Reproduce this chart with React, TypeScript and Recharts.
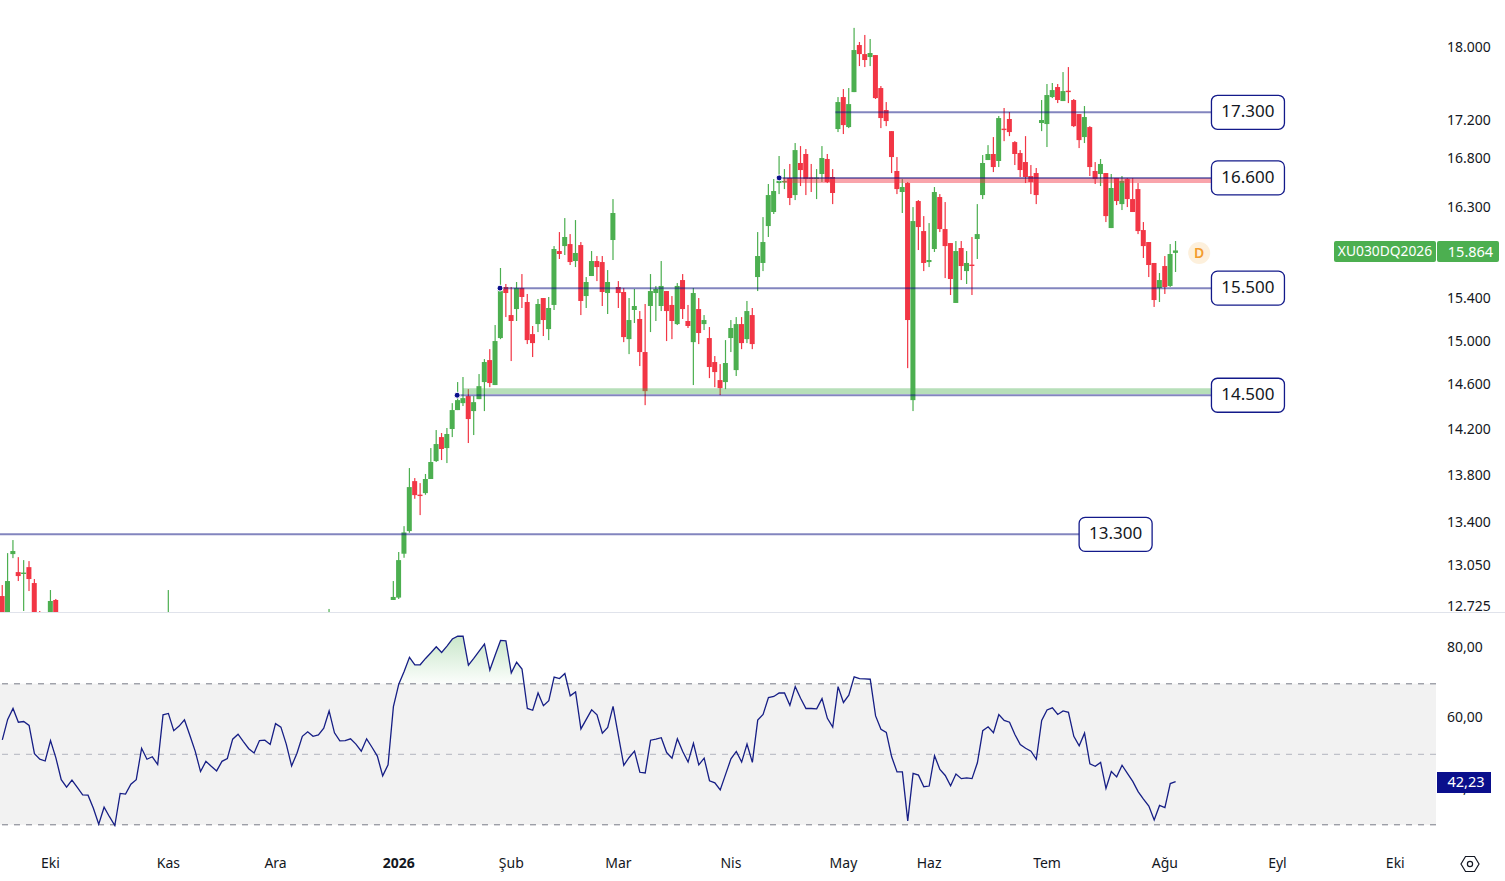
import {
  Area,
  Bar,
  ComposedChart,
  Line,
  ReferenceArea,
  ReferenceDot,
  ReferenceLine,
  XAxis,
  YAxis,
} from "recharts";

const UP = "#4caf50";
const DOWN = "#f23645";
const NAVY = "#131a8a";
const DRAW = "rgba(16,22,130,0.52)";
const FONT = "'Noto Sans', sans-serif";
const TEXT = "#131722";

// null = the candle sits entirely below the visible price pane
const n = null;
const opens = [
  12800,12600,13138,12992,12980,13032,12904,12650,n,12600,
  12769,n,n,n,n,n,n,n,n,n,
  n,n,n,n,n,n,n,n,n,n,
  n,12500,n,n,n,n,n,n,n,n,
  n,n,n,n,n,n,n,n,n,n,
  n,n,n,n,n,n,n,n,n,n,
  n,12500,n,n,n,n,n,n,n,n,
  n,n,n,12769,12788,13141,13327,13747,13632,13645,
  13765,13919,14128,14032,14199,14367,14429,14492,14358,14465,
  14619,14820,14592,15024,15508,15240,15297,15498,15364,15061,
  15155,15402,15108,15336,15858,15907,15927,15760,15917,15421,
  15614,15760,15750,15450,15967,15508,15460,15014,15288,15203,
  14894,15326,15450,15326,15469,15336,15155,15575,15184,14986,
  15297,15155,15024,14802,14637,14619,15024,14728,15155,15014,
  15240,15604,15741,16106,16247,16542,16553,16594,16419,16749,
  16843,16598,16590,16635,16791,16604,17106,17449,17127,17503,
  18022,17921,17888,17910,17547,17309,17084,16666,16450,16542,
  14456,16358,16056,15750,15878,16399,16076,15937,15355,15888,
  15662,15725,15977,16419,16780,16843,16770,17110,17213,16968,
  16853,16759,16614,16645,17170,17159,17449,17558,17406,17518,
  17417,17266,17021,17127,16666,16635,16645,16086,16594,16327,
  16583,16378,16480,16066,15947,15741,15498,15711,15518,15840,
];
const closes = [
  12600,12920,13163,12960,12988,12936,12600,12620,n,12761,
  12600,n,n,n,n,n,n,n,n,n,
  n,n,n,n,n,n,n,n,n,n,
  n,12620,n,n,n,n,n,n,n,n,
  n,n,n,n,n,n,n,n,n,n,
  n,n,n,n,n,n,n,n,n,n,
  n,12620,n,n,n,n,n,n,n,n,
  n,n,n,12793,13089,13316,13696,13628,13625,13765,
  13911,14067,14024,14155,14367,14456,14474,14287,14438,14582,
  14802,14610,14996,15469,15450,15184,15498,15412,15005,14977,
  15345,15193,15307,15878,15829,15997,15750,15839,15374,15556,
  15760,15701,15460,15556,16237,15450,15033,15193,15326,14894,
  14537,15469,15489,15518,15278,15184,15518,15297,15137,15450,
  15071,15193,14756,14710,14564,14793,15118,15155,14977,15278,
  14968,15809,15947,16419,16460,16563,16563,16389,16884,16676,
  16583,16590,16598,16801,16553,16440,17395,17148,17373,17966,
  17921,17855,17933,17438,17223,17191,16811,16480,16501,15193,
  16156,16096,15741,15770,16450,16076,15907,15585,15858,15711,
  15741,15717,16026,16749,16843,16707,17223,17102,17074,16843,
  16676,16604,16553,16419,17202,17471,17525,17417,17514,17510,
  17137,16989,17234,16707,16583,16739,16206,16491,16358,16563,
  16378,16247,16056,15907,15721,15383,15575,15508,15829,15864,
];
const highs = [
  12888,13146,13253,13113,13089,13081,12936,12682,n,12848,
  12777,n,n,n,n,n,n,n,n,n,
  n,n,n,n,n,n,n,n,n,n,
  n,12848,n,n,n,n,n,n,n,n,
  n,n,n,n,n,n,n,n,n,n,
  n,n,n,n,n,n,n,n,n,n,
  n,12698,n,n,n,n,n,n,n,n,
  n,n,n,12920,13155,13368,13859,13773,13730,13808,
  14032,14190,14164,14208,14429,14619,14665,14555,14492,14692,
  14829,14921,15146,15692,15537,15508,15556,15633,15441,15137,
  15393,15402,15412,15907,16046,16186,16026,16166,15947,15604,
  15858,15809,15809,15672,16378,15565,15498,15402,15489,15278,
  15345,15633,15518,15760,15469,15421,15546,15633,15336,15498,
  15402,15240,15127,14857,14783,15005,15193,15221,15221,15374,
  15307,16046,16196,16532,16583,16822,16686,16739,16958,16926,
  16895,16739,16686,16926,16843,16686,17449,17536,17547,18215,
  18056,18135,18090,17910,17569,17395,17084,16811,16583,16553,
  16297,16368,16206,16136,16501,16429,16348,15937,15957,15957,
  15858,15997,16327,16832,16936,17021,17245,17331,17288,16978,
  16884,17031,16728,16697,17417,17591,17602,17591,17722,17777,
  17428,17266,17352,17137,16759,16791,16645,16635,16594,16614,
  16594,16594,16542,16146,15947,15741,15643,15809,15927,15957,
];
const lows = [
  12560,12560,13105,12920,12682,12840,12560,12580,n,12560,
  12560,n,n,n,n,n,n,n,n,n,
  n,n,n,n,n,n,n,n,n,n,
  n,12450,n,n,n,n,n,n,n,n,
  n,n,n,n,n,n,n,n,n,n,
  n,n,n,n,n,n,n,n,n,n,
  n,12450,n,n,n,n,n,n,n,n,
  n,n,n,12769,12777,13108,13313,13597,13460,13631,
  13765,13911,13928,13902,14128,14367,14403,14076,14146,14465,
  14358,14573,14592,15014,15221,14811,15184,15307,14968,14848,
  15080,15043,15005,15288,15780,15819,15721,15701,15240,15307,
  15614,15565,15326,15250,15770,15307,14986,14875,15165,14765,
  14411,15080,15184,15278,14996,15014,15146,15203,15118,14592,
  14968,15099,14655,14573,14501,14555,14894,14674,14921,14977,
  14921,15469,15662,15997,16227,16429,16480,16317,16368,16511,
  16419,16450,16378,16553,16542,16327,17074,17053,17116,17503,
  17788,17777,17788,17428,17116,17137,16645,16429,16237,14746,
  14358,15868,15662,15701,15849,16046,15594,15431,15355,15575,
  15537,15431,15780,16378,16780,16655,16707,16978,17031,16728,
  16604,16542,16429,16327,17084,16916,17438,17384,17406,17384,
  17127,16905,16958,16614,16532,16511,16146,16086,16317,16267,
  16297,16247,16026,15790,15604,15317,15364,15441,15508,15653,
];
const rsi = [
  54.1,59.9,63.0,59.1,59.3,58.2,50.2,48.6,48.1,53.9,
  49.0,42.8,40.7,42.7,40.6,38.5,38.4,34.7,30.2,35.0,
  32.3,29.8,38.9,38.7,41.5,42.8,51.7,48.6,49.3,47.1,
  61.2,61.6,56.7,58.0,59.8,55.4,50.9,45.1,48.0,46.6,
  45.3,48.0,48.8,54.3,55.7,53.6,51.6,50.4,53.9,54.0,
  52.8,58.7,57.7,52.9,46.7,50.3,55.1,56.4,55.1,55.5,
  57.4,62.3,56.1,53.8,53.9,54.4,52.9,50.9,54.4,52.0,
  49.5,43.9,47.0,63.5,69.9,73.5,77.5,75.4,75.4,77.2,
  78.8,80.5,78.9,80.7,82.7,83.5,83.5,75.3,77.2,79.3,
  81.3,73.9,78.2,82.3,82.2,73.1,76.1,74.2,63.0,62.5,
  67.4,63.8,65.2,71.9,71.5,72.9,66.6,67.7,57.2,59.9,
  62.6,61.2,56.0,57.6,63.6,55.2,46.9,49.1,50.9,44.9,
  44.7,54.0,54.3,54.7,50.5,48.9,54.4,50.8,47.8,53.1,
  47.0,48.9,42.5,41.9,39.9,44.3,48.7,50.8,47.8,52.9,
  47.7,59.7,61.3,66.1,66.4,67.4,67.4,63.9,69.2,65.9,
  63.0,63.0,62.9,65.8,60.2,57.7,69.2,64.7,66.8,72.0,
  71.5,71.4,71.3,60.9,57.1,56.2,49.3,45.0,45.0,31.1,
  44.6,44.1,40.8,41.0,49.6,45.7,44.0,41.1,44.4,43.1,
  43.3,43.1,47.6,56.7,57.8,56.1,61.3,59.6,59.1,55.6,
  52.8,51.7,50.9,48.6,59.6,62.6,63.2,61.3,62.3,61.9,
  55.1,52.4,56.0,47.3,46.6,47.7,40.3,45.1,43.6,46.9,
  44.6,42.3,39.4,37.3,35.3,31.4,35.5,34.9,41.7,42.23,
];

const priceTicks = [18000, 17200, 16800, 16300, 15800, 15400, 15000, 14600, 14200, 13800, 13400, 13050, 12725];
const rsiTicks = [80, 60, 40];
const timeIndexes = [9, 31, 51, 74, 95, 115, 136, 157, 173, 195, 217, 238, 260];
const timeLabels = ["Eki", "Kas", "Ara", "2026", "Şub", "Mar", "Nis", "May", "Haz", "Tem", "Ağu", "Eyl", "Eki"];

const RIGHT_SLOT = 225.6;
const levels = [
  { price: 17285, label: "17.300", from: 155.5, to: RIGHT_SLOT, box: 232.5, dot: false },
  { price: 16595, label: "16.600", from: 145, to: RIGHT_SLOT, box: 232.5, dot: true },
  { price: 15497, label: "15.500", from: 92.9, to: RIGHT_SLOT, box: 232.5, dot: true },
  { price: 14500, label: "14.500", from: 84.9, to: RIGHT_SLOT, box: 232.5, dot: true },
  { price: 13300, label: "13.300", from: -0.43, to: 201, box: 207.8, dot: false },
];

const xDomain = [-0.43, 267.6];
const priceDomain = [12674, 18533];
const rsiDomain = [24.27, 90.09];

const rows = rsi.map((value, i) => ({
  i,
  o: opens[i],
  h: highs[i],
  l: lows[i],
  c: closes[i],
  rsi: value,
  over: [70, Math.max(value, 70)],
}));
const candleRows = rows.filter((r) => r.o !== null);

const lastClose = closes[closes.length - 1];
const lastRsi = rsi[rsi.length - 1];

function fmtPrice(v: number): string {
  return String(v).replace(/(\d{2})(\d{3})$/, "$1.$2");
}

function candleColor(p: any): string {
  return p.c >= p.o ? UP : DOWN;
}

function CandlePart(props: any) {
  const { x, y, width, height, payload } = props;
  if (!payload || !Number.isFinite(y)) return null;
  return <rect x={x} y={y} width={width} height={Math.max(height, 1.4)} fill={candleColor(payload)} />;
}

function PriceTick(props: any) {
  return (
    <text x={1447} y={props.y + 5} fontFamily={FONT} fontSize={14} fill={TEXT}>
      {fmtPrice(props.payload.value)}
    </text>
  );
}

function RsiTick(props: any) {
  return (
    <text x={1447} y={props.y + 3} fontFamily={FONT} fontSize={14} fill={TEXT}>
      {`${props.payload.value},00`}
    </text>
  );
}

function TimeTick(props: any) {
  const { x, payload } = props;
  const idx = timeIndexes.indexOf(payload.value);
  const label = timeLabels[idx];
  return (
    <text
      x={x}
      y={255}
      textAnchor="middle"
      fontFamily={FONT}
      fontSize={14}
      fontWeight={label === "2026" ? 700 : 400}
      fill={TEXT}
    >
      {label}
    </text>
  );
}

function LevelBox(props: any) {
  const { cx, cy, label } = props;
  return (
    <g>
      <rect x={cx - 36.5} y={cy - 17} width={73} height={34} rx={6} fill="#fff" stroke={NAVY} strokeWidth={1.3} />
      <text x={cx} y={cy + 5} textAnchor="middle" fontFamily={FONT} fontSize={17} fill={TEXT}>
        {label}
      </text>
    </g>
  );
}

function StartDot(props: any) {
  const { cx, cy } = props;
  return <circle cx={cx} cy={cy} r={3} fill="#0a0f8c" stroke="#fff" strokeWidth={1} />;
}

function DividendBadge(props: any) {
  const { cx, cy } = props;
  return (
    <g>
      <circle cx={cx} cy={cy} r={11} fill="#fdf0dc" />
      <text x={cx} y={cy + 5} textAnchor="middle" fontFamily={FONT} fontSize={14} fontWeight={600} fill="#f39c2d">
        D
      </text>
    </g>
  );
}

const badgeStyle = {
  position: "absolute" as const,
  height: 21,
  lineHeight: "20px",
  textAlign: "center" as const,
  color: "#fff",
  fontFamily: FONT,
  fontSize: 14.5,
  borderRadius: 2,
  boxSizing: "border-box" as const,
};

export default function App() {
  return (
    <div style={{ position: "absolute", left: 0, top: 0, width: 1505, height: 881, background: "#fff", overflow: "hidden" }}>
      <ComposedChart width={1505} height={612} data={candleRows} margin={{ top: 0, right: 0, bottom: 0, left: 0 }}>
        <XAxis xAxisId="wick" dataKey="i" type="number" domain={xDomain} allowDataOverflow hide />
        <XAxis xAxisId="body" dataKey="i" type="number" domain={xDomain} allowDataOverflow hide />
        <YAxis
          orientation="right"
          width={69}
          scale="log"
          domain={priceDomain}
          allowDataOverflow
          ticks={priceTicks}
          interval={0}
          tickLine={false}
          axisLine={false}
          tick={PriceTick}
        />
        <Bar xAxisId="wick" dataKey={(d: any) => [d.l, d.h]} barSize={1.2} shape={CandlePart} isAnimationActive={false} />
        <Bar xAxisId="body" dataKey={(d: any) => [Math.min(d.o, d.c), Math.max(d.o, d.c)]} barSize={5} shape={CandlePart} isAnimationActive={false} />

        <ReferenceArea xAxisId="body" x1={86} x2={RIGHT_SLOT} y1={14510} y2={14564} fill={UP} fillOpacity={0.4} stroke="none" ifOverflow="visible" zIndex={1200} />
        <ReferenceArea xAxisId="body" x1={145.7} x2={RIGHT_SLOT} y1={16542} y2={16594} fill={DOWN} fillOpacity={0.45} stroke="none" ifOverflow="visible" zIndex={1200} />

        {levels.map((lv) => (
          <ReferenceLine
            key={lv.label}
            xAxisId="body"
            segment={[{ x: lv.from, y: lv.price }, { x: lv.to, y: lv.price }]}
            stroke={DRAW}
            strokeWidth={2}
            ifOverflow="visible"
            zIndex={1200}
          />
        ))}
        {levels.filter((lv) => lv.dot).map((lv) => (
          <ReferenceDot key={lv.label + "d"} xAxisId="body" x={lv.from} y={lv.price} ifOverflow="visible" shape={StartDot} zIndex={1300} />
        ))}
        {levels.map((lv) => (
          <ReferenceDot
            key={lv.label + "b"}
            xAxisId="body"
            x={lv.box}
            y={lv.price}
            ifOverflow="visible"
            shape={(p: any) => <LevelBox {...p} label={lv.label} />}
            zIndex={1300}
          />
        ))}
        <ReferenceDot xAxisId="body" x={223.4} y={15839} ifOverflow="visible" shape={DividendBadge} zIndex={1300} />
      </ComposedChart>

      <div style={{ position: "absolute", left: 0, top: 612, width: 1505, height: 1, background: "#e0e3eb" }} />

      <div style={{ position: "absolute", left: 0, top: 613, width: 1505, height: 268, background: "#fff" }}>
        <ComposedChart width={1505} height={268} data={rows} margin={{ top: 0, right: 0, bottom: 0, left: 0 }}>
          <defs>
            <linearGradient id="overbought" x1="0" y1="0" x2="0" y2="1">
              <stop offset="0%" stopColor={UP} stopOpacity={0.5} />
              <stop offset="100%" stopColor={UP} stopOpacity={0.03} />
            </linearGradient>
          </defs>
          <XAxis
            dataKey="i"
            type="number"
            domain={xDomain}
            allowDataOverflow
            ticks={timeIndexes}
            interval={0}
            height={36}
            tickLine={false}
            axisLine={false}
            tick={TimeTick}
          />
          <YAxis
            orientation="right"
            width={69}
            domain={rsiDomain}
            allowDataOverflow
            ticks={rsiTicks}
            interval={0}
            tickLine={false}
            axisLine={false}
            tick={RsiTick}
          />
          <ReferenceArea y1={30} y2={70} fill="#f2f2f2" fillOpacity={1} stroke="none" />
          <ReferenceLine y={70} stroke="#787b86" strokeDasharray="6 6" />
          <ReferenceLine y={50} stroke="#b2b5be" strokeDasharray="6 6" />
          <ReferenceLine y={30} stroke="#787b86" strokeDasharray="6 6" />
          <Area dataKey="over" stroke="none" fill="url(#overbought)" dot={false} activeDot={false} isAnimationActive={false} />
          <Line dataKey="rsi" stroke="#161e85" strokeWidth={1.3} dot={false} activeDot={false} isAnimationActive={false} />
        </ComposedChart>
      </div>

      {/* last value badges sit on top of the axis labels */}
      <div style={{ ...badgeStyle, left: 1334, top: 241, width: 102, background: UP, fontSize: 13.8 }}>XU030DQ2026</div>
      <div style={{ ...badgeStyle, left: 1437, top: 241, width: 62, background: UP, paddingLeft: 5 }}>{fmtPrice(lastClose)}</div>
      <div style={{ ...badgeStyle, left: 1437, top: 772, width: 54, background: "#0a0f8c", borderRadius: 0, paddingLeft: 4, lineHeight: "19px" }}>
        {String(lastRsi).replace(".", ",")}
      </div>

      <svg style={{ position: "absolute", left: 1458, top: 852 }} width={24} height={24} viewBox="0 0 24 24">
        <path d="M7.5 4.5 L16.5 4.5 L21 12 L16.5 19.5 L7.5 19.5 L3 12 Z" fill="none" stroke={TEXT} strokeWidth={1.2} />
        <circle cx={12} cy={12} r={2.6} fill="none" stroke={TEXT} strokeWidth={1.2} />
      </svg>
    </div>
  );
}
